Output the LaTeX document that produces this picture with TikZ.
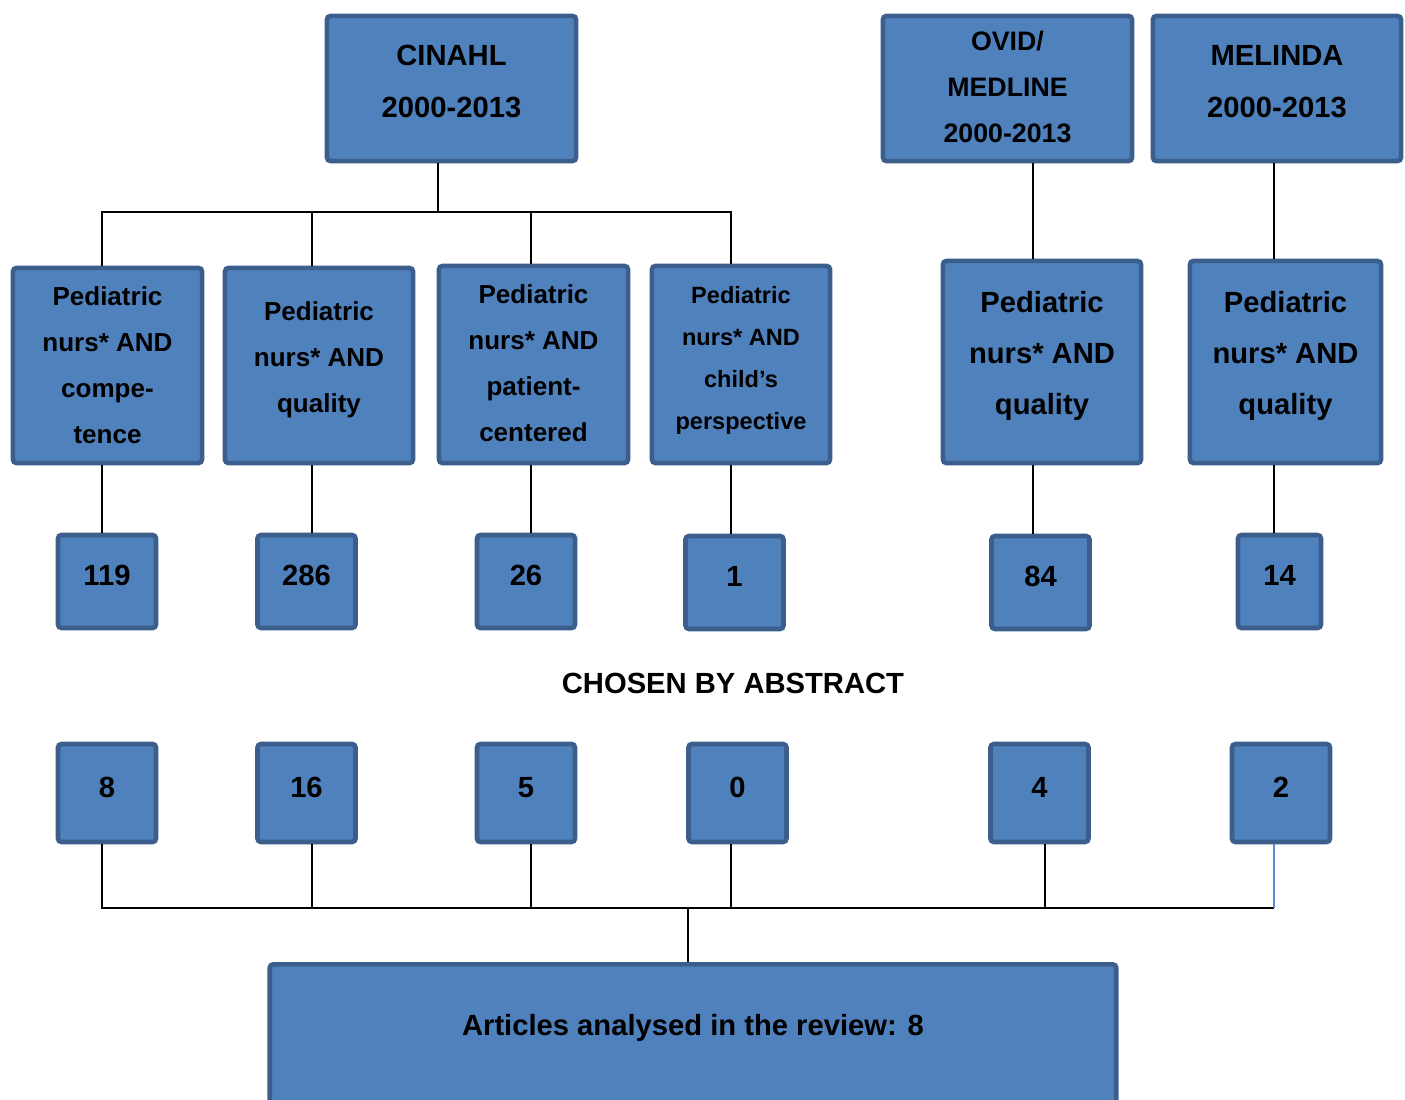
\documentclass[tikz,border=0pt]{standalone}
\usepackage{fontspec}
\setmainfont{Liberation Sans}
\definecolor{boxfill}{HTML}{4F81BD}
\definecolor{boxedge}{HTML}{3B5E8C}
\definecolor{linkblue}{HTML}{5A8AD0}
\newcommand{\bigf}{\fontsize{8.3}{14.8}\selectfont\bfseries}
\newcommand{\midf}{\fontsize{7.4}{13.1}\selectfont\bfseries}
\newcommand{\smallf}{\fontsize{6.7}{11.9}\selectfont\bfseries}
\newcommand{\widef}{\fontsize{8.3}{14.5}\selectfont\bfseries}
\tikzset{
  box/.style={draw=boxedge, fill=boxfill, line width=1.3pt, rounded corners=1pt,
    inner sep=0pt, align=center, font=\midf},
  numbox/.style={box, font=\bigf, minimum width=0.98cm, text depth=3.4pt},
  link/.style={line width=0.6pt}
}

\begin{document}
\begin{tikzpicture}[x=0.01cm,y=-0.01cm]
  \useasboundingbox (0,0) rectangle (1405,1100);
  % Databases
  \node[box, font=\bigf, text depth=4pt, minimum width=2.49cm, minimum height=1.45cm] (cin) at (451.5,88.5) {CINAHL\\2000-2013};
  \node[box, font={\fontsize{7.6}{13.1}\selectfont\bfseries}, text depth=1pt, minimum width=2.49cm, minimum height=1.45cm] (ovid) at (1007.5,88.5) {OVID/\\MEDLINE\\2000-2013};
  \node[box, font=\bigf, text depth=4pt, minimum width=2.48cm, minimum height=1.45cm] (mel) at (1277,88.5) {MELINDA\\2000-2013};
  % Search terms
  \node[box, minimum width=1.89cm, minimum height=1.95cm] (p1) at (107.5,365.5) {Pediatric\\nurs* AND\\compe-\\tence};
  \node[box, text depth=4.6pt, minimum width=1.88cm, minimum height=1.95cm] (p2) at (319,365.5) {Pediatric\\nurs* AND\\quality};
  \node[box, text depth=1pt, minimum width=1.89cm, minimum height=1.97cm] (p3) at (533.5,364.5) {Pediatric\\nurs* AND\\patient-\\centered};
  \node[box, font=\smallf, text depth=3.8pt, minimum width=1.78cm, minimum height=1.97cm] (p4) at (741,364.5) {Pediatric\\nurs* AND\\child’s\\perspective};
  \node[box, font=\widef, text depth=5pt, minimum width=1.98cm, minimum height=2.02cm] (p5) at (1042,362) {Pediatric\\nurs* AND\\quality};
  \node[box, font=\widef, text depth=5pt, minimum width=1.91cm, minimum height=2.02cm] (p6) at (1285.5,362) {Pediatric\\nurs* AND\\quality};
  % Hits
  \node[numbox, minimum height=0.93cm] (n1) at (107,581.5) {119};
  \node[numbox, minimum height=0.93cm] (n2) at (306.5,581.5) {286};
  \node[numbox, minimum height=0.93cm] (n3) at (526,581.5) {26};
  \node[numbox, minimum height=0.93cm] (n4) at (734.5,582.5) {1};
  \node[numbox, minimum height=0.93cm] (n5) at (1040.5,582.5) {84};
  \node[numbox, minimum height=0.93cm, minimum width=0.83cm] (n6) at (1279.5,581.5) {14};
  \node[font=\bigf] (chosen) at (733,683) {CHOSEN BY ABSTRACT};
  % Chosen
  \node[numbox, minimum height=0.98cm] (c1) at (107,793) {8};
  \node[numbox, minimum height=0.98cm] (c2) at (306.5,793) {16};
  \node[numbox, minimum height=0.98cm] (c3) at (526,793) {5};
  \node[numbox, minimum height=0.98cm] (c4) at (737.5,793) {0};
  \node[numbox, minimum height=0.98cm] (c5) at (1039.5,793) {4};
  \node[numbox, minimum height=0.98cm] (c6) at (1281,793) {2};
  % Result
  \node[box, minimum width=8.46cm, minimum height=1.52cm, anchor=north,
    label={[font=\bigf, yshift=0.12cm]center:{Articles analysed in the review: 8}}] (final) at (693,962) {};
  % Line columns
  \coordinate (cinx) at (438,0);
  \coordinate (bus1) at (438,212);
  \coordinate (bus2) at (688,908);
  \foreach \i/\x in {1/102,2/312,3/531,4/731,5/1033,6/1274}
    \coordinate (col\i) at (\x,0);
  \coordinate (colb5) at (1045,0);
  % Upper links
  \draw[link] (cin.south -| cinx) -- (bus1);
  \draw[link] (p1.north -| col1) -- (col1 |- bus1) -- (col4 |- bus1) -- (p4.north -| col4);
  \draw[link] (p2.north -| col2) -- (col2 |- bus1);
  \draw[link] (p3.north -| col3) -- (col3 |- bus1);
  \draw[link] (ovid.south -| col5) -- (p5.north -| col5);
  \draw[link] (mel.south -| col6) -- (p6.north -| col6);
  \foreach \i in {1,...,6}
    \draw[link] (p\i.south -| col\i) -- (n\i.north -| col\i);
  % Lower links
  \draw[link] (c1.south -| col1) -- (col1 |- bus2) -- (col6 |- bus2);
  \draw[link] (c2.south -| col2) -- (col2 |- bus2);
  \draw[link] (c3.south -| col3) -- (col3 |- bus2);
  \draw[link] (c4.south -| col4) -- (col4 |- bus2);
  \draw[link] (c5.south -| colb5) -- (colb5 |- bus2);
  \draw[link, linkblue] (c6.south -| col6) -- (col6 |- bus2);
  \draw[link] (bus2) -- (final.north -| bus2);
\end{tikzpicture}
\end{document}
